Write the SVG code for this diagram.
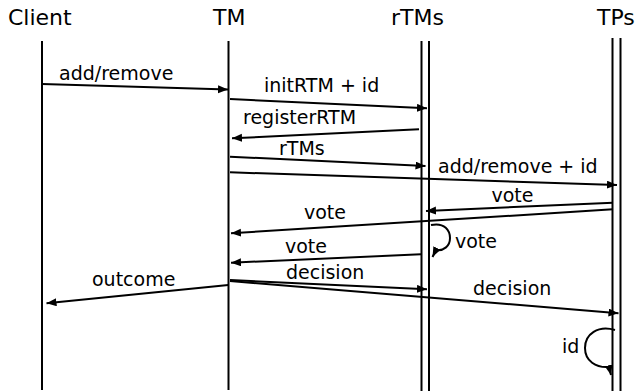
<svg xmlns="http://www.w3.org/2000/svg" width="636" height="391" viewBox="0 0 636 391">
<style>
.title{font-family:"DejaVu Sans","Liberation Sans",sans-serif;font-size:22px;fill:#000}
.lbl{font-family:"DejaVu Sans","Liberation Sans",sans-serif;font-size:19px;fill:#000}
.life{stroke:#000;stroke-width:2;fill:none}
.msg{stroke:#000;stroke-width:2;fill:none;marker-end:url(#ah)}
</style>
<defs>
<marker id="ah" markerUnits="userSpaceOnUse" markerWidth="11" markerHeight="9" refX="10" refY="4" orient="auto" viewBox="0 0 11 9">
<path d="M0,0 L10,4 L0,8 z" fill="#000"/>
</marker>
</defs>
<rect width="636" height="391" fill="#fff"/>
<g id="client">
<text class="title" x="8" y="25">Client</text>
<line class="life" x1="42" y1="41" x2="42" y2="390"/>
</g>
<g id="tm">
<text class="title" x="213" y="25">TM</text>
<line class="life" x1="228.5" y1="41" x2="228.5" y2="390"/>
</g>
<g id="rtms">
<text class="title" x="391" y="25">rTMs</text>
<line class="life" x1="421.5" y1="41" x2="421.5" y2="391"/>
<line class="life" x1="429" y1="41" x2="429" y2="391"/>
</g>
<g id="tps">
<text class="title" x="597" y="25">TPs</text>
<line class="life" x1="612.5" y1="38" x2="612.5" y2="391"/>
<line class="life" x1="620.5" y1="38" x2="620.5" y2="391"/>
</g>
<g id="connectors">
<line class="msg" x1="42" y1="84" x2="228" y2="89.5"/>
<line class="msg" x1="230" y1="99" x2="427" y2="108.3"/>
<line class="msg" x1="419" y1="129.3" x2="232" y2="138.3"/>
<line class="msg" x1="230" y1="156.7" x2="425.5" y2="166"/>
<line class="msg" x1="230" y1="172.3" x2="617" y2="185"/>
<line class="msg" x1="613" y1="202.7" x2="426" y2="211"/>
<line class="msg" x1="613" y1="209.3" x2="231" y2="233.3"/>
<path class="msg" d="M431,225 C445,222 450,231 450,238 C450,246 444,251 436,250 L432.5,257"/>
<line class="msg" x1="421" y1="254.3" x2="231" y2="262.7"/>
<line class="msg" x1="230" y1="280" x2="427" y2="289.3"/>
<line class="msg" x1="228.3" y1="285" x2="46.5" y2="303.3"/>
<line class="msg" x1="230" y1="281" x2="618.5" y2="313.3"/>
<path class="msg" d="M615,330 C598,325 585,334 585,348 C585,361 596,368 609,367 L611,375"/>
</g>
<g id="labels">
<text class="lbl" x="59" y="80">add/remove</text>
<text class="lbl" x="264" y="92">initRTM + id</text>
<text class="lbl" x="243" y="124">registerRTM</text>
<text class="lbl" x="279" y="155">rTMs</text>
<text class="lbl" x="438" y="172.5">add/remove + id</text>
<text class="lbl" x="491.5" y="201.5">vote</text>
<text class="lbl" x="304" y="219">vote</text>
<text class="lbl" x="455" y="248">vote</text>
<text class="lbl" x="285" y="253">vote</text>
<text class="lbl" x="286" y="279">decision</text>
<text class="lbl" x="92" y="286">outcome</text>
<text class="lbl" x="473" y="295">decision</text>
<text class="lbl" x="562" y="353">id</text>
</g>
</svg>
